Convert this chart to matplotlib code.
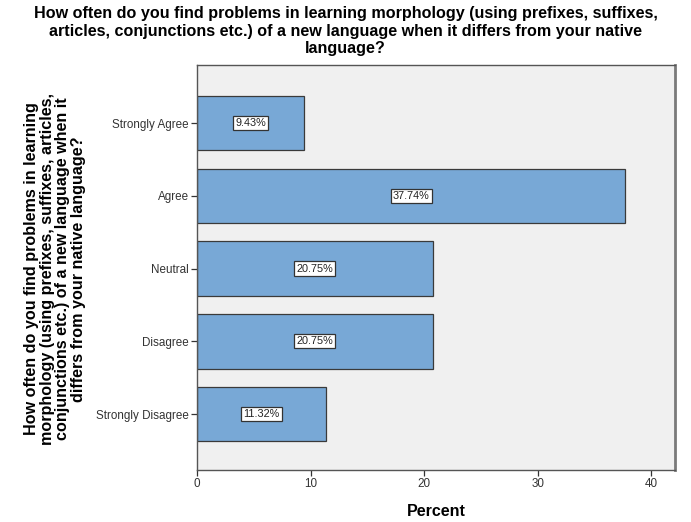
import matplotlib
matplotlib.use("Agg")
import matplotlib.pyplot as plt

plt.rcParams['font.family'] = ['Liberation Sans', 'DejaVu Sans']

categories = ["Strongly Agree", "Agree", "Neutral", "Disagree", "Strongly Disagree"]
percents = [9.43, 37.74, 20.75, 20.75, 11.32]
xticks = [0, 10, 20, 30, 40]

title = ("How often do you find problems in learning morphology (using prefixes, suffixes,\n"
         "articles, conjunctions etc.) of a new language when it differs from your native\n"
         "language?")
ylabel = ("How often do you find problems in learning\n"
          "morphology (using prefixes, suffixes, articles,\n"
          "conjunctions etc.) of a new language when it\n"
          "differs from your native language?")

fig = plt.figure(figsize=(6.91, 5.22), dpi=100)
ax = fig.add_axes([197/691, 1 - 470/522, (675-197)/691, (470-65)/522])
ax.set_facecolor("#f0f0f0")

pos = list(range(len(categories)))
ax.barh(pos, percents, height=0.75, color="#78a8d6", edgecolor="#3a3a3a", linewidth=0.9)

for p, v in zip(pos, percents):
    ax.text(v / 2, p, f"{v:.2f}%", ha="center", va="center", fontsize=7.8, color="#222222",
            bbox=dict(boxstyle="square,pad=0.2", facecolor="white", edgecolor="#333333", linewidth=0.9))

ax.set_ylim(4.77, -0.8)
ax.set_xlim(0, 42.1)
ax.set_yticks(pos)
ax.set_yticklabels(categories, fontsize=8.4)
ax.set_xticks(xticks)
ax.set_xticklabels([str(t) for t in xticks], fontsize=8.4)
ax.tick_params(length=4, width=0.9, color="#333333", labelcolor="#333333", pad=2)

for s in ax.spines.values():
    s.set_color("#555555")
    s.set_linewidth(1.0)
ax.spines['right'].set_linewidth(2.0)
ax.spines['right'].set_color("#7a7a7a")

ax.set_xlabel("Percent", fontsize=11.5, fontweight="bold", labelpad=10)
fig.text(0.5, 0.988, title, ha="center", va="top", fontsize=11.6, fontweight="bold",
         linespacing=1.2)
fig.text(55/691, 1 - 269/522, ylabel, ha="center", va="center", rotation=90,
         fontsize=11.6, fontweight="bold", linespacing=1.05)

fig.savefig("out.png", dpi=100)
